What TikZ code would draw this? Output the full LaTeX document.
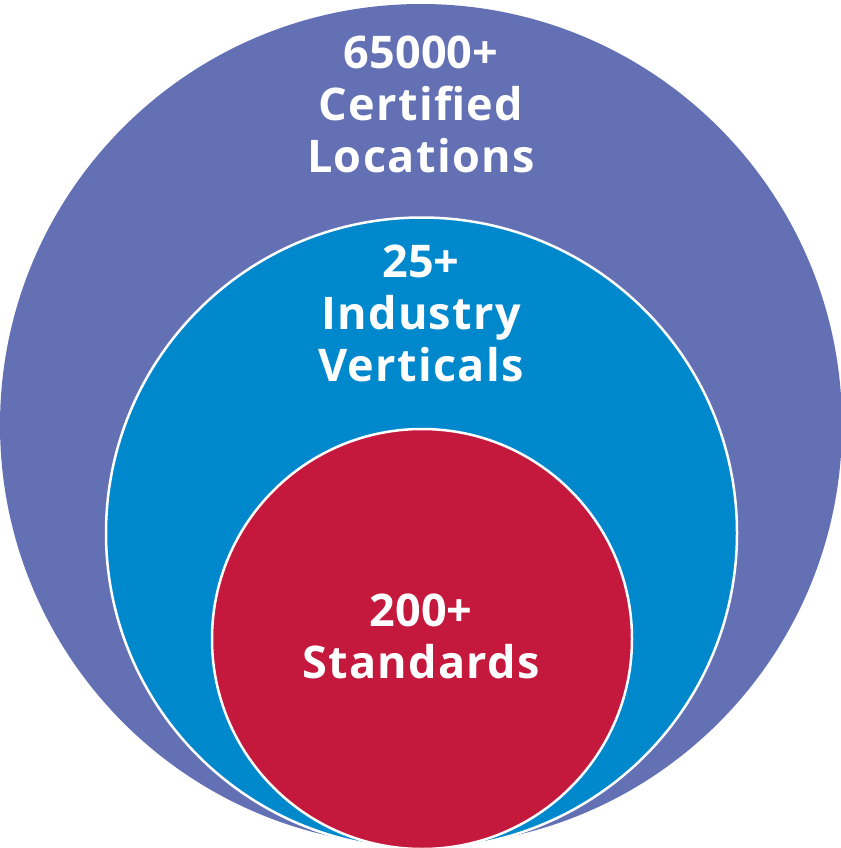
\documentclass[tikz,border=0pt]{standalone}
\usepackage{fontspec}
\setmainfont{Open Sans}
\definecolor{outercol}{RGB}{99,112,180}
\definecolor{middlecol}{RGB}{0,136,204}
\definecolor{innercol}{RGB}{196,24,60}
\newcommand{\tight}[1]{{\addfontfeatures{LetterSpace=0}#1}}

\begin{document}
\begin{tikzpicture}%
[x=1pt, y=-1pt,%
ring/.style={circle, draw=white, line width=2.5pt, inner sep=0pt, minimum size=#1},%
figure/.style={text=white, font=\bfseries\fontsize{45}{52}\selectfont\addfontfeatures{LetterSpace=3}, align=center, anchor=base, inner sep=0pt}]

\useasboundingbox (0,0) rectangle (840,848);

\node[ring=842, fill=outercol, draw=none] (outer) at (421,425) {};
\node[ring=631, fill=middlecol] (middle) at (421.5,533) {};
\node[ring=420, fill=innercol] (inner) at (422,639) {};

% anchor=base sits on the last line
\node[figure] (locations) at (421,172) {\tight{65000+}\\Certified\\Locations};
\node[figure] (verticals) at (421,381) {\tight{25+}\\Industry\\Verticals};
\node[figure] (standards) at (421,678) {\tight{200+}\\Standards};
\end{tikzpicture}
\end{document}
